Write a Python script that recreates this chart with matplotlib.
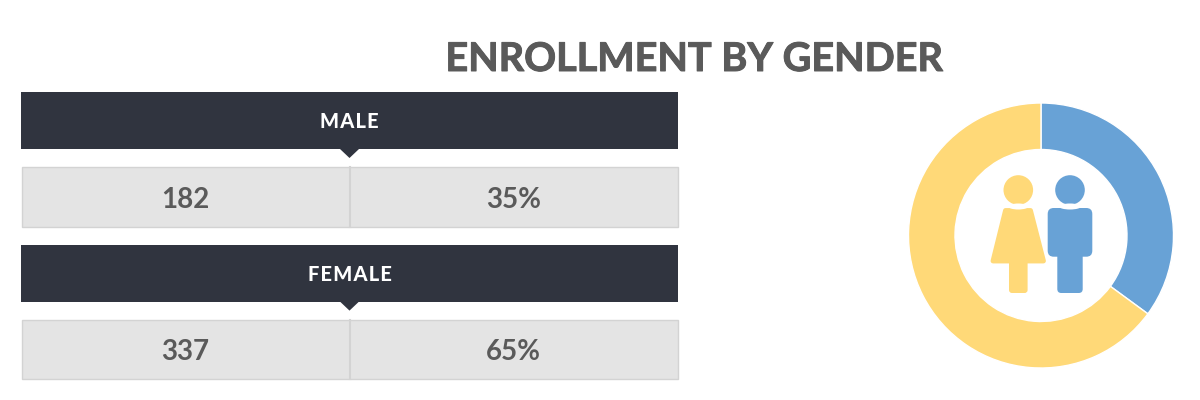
import matplotlib
matplotlib.use("Agg")
import matplotlib.pyplot as plt
import matplotlib.patheffects as pe
from matplotlib.patches import Rectangle, Polygon, Circle, FancyBboxPatch, Ellipse

plt.rcParams['font.family'] = ['Lato', 'DejaVu Sans']

title = "ENROLLMENT BY GENDER"
categories = ["MALE", "FEMALE"]
counts = [182, 337]
shares = ["35%", "65%"]
colors = ["#68A2D6", "#FFD978"]
DARK = "#30343F"; CELL = "#E4E4E4"; EDGE = "#D3D3D3"; TEXT = "#5A5A5A"

fig = plt.figure(figsize=(12, 4), dpi=100, facecolor="white")
ax = fig.add_axes([0, 0, 1, 1])
ax.set_xlim(0, 1200); ax.set_ylim(400, 0); ax.axis("off")

ax.text(695, 59.5, title, ha="center", va="center", fontsize=28.5, fontweight="bold", color=TEXT,
        path_effects=[pe.withStroke(linewidth=0.7, foreground=TEXT)])

tops = [92, 244.6]
value_y = [199.5, 352.5]
for top, vy, cat, n, s in zip(tops, value_y, categories, counts, shares):
    ax.add_patch(Rectangle((21, top), 657, 57, fc=DARK, ec="none"))
    ax.add_patch(Polygon([(340, top + 57), (359, top + 57), (349.5, top + 66)], fc=DARK, ec="none"))
    ax.text(349.5, top + 29.5, "\u200a".join(cat), ha="center", va="center", fontsize=14.4, fontweight=900,
            color="white")
    ax.add_patch(Rectangle((21.5, top + 75), 656, 59.5, fc=CELL, ec=EDGE, lw=1))
    ax.plot([349.5, 349.5], [top + 75, top + 134.5], color=EDGE, lw=1.5)
    ax.text(185.5, vy, str(n), ha="center", va="center", fontsize=20, fontweight="bold", color=TEXT)
    ax.text(513.5, vy, s, ha="center", va="center", fontsize=20, fontweight="bold", color=TEXT)

# donut
cx, cy, R = 1041, 235.5, 132.5
dax = fig.add_axes([(cx - R) / 1200, 1 - (cy + R) / 400, 2 * R / 1200, 2 * R / 400])
dax.pie(counts, colors=colors, startangle=90, counterclock=False, radius=1,
        wedgeprops=dict(width=1 - 86 / 132.5, edgecolor="white", linewidth=1.0))
dax.set_xlim(-1, 1); dax.set_ylim(-1, 1); dax.set_aspect("auto")

# icons
y_c, b = colors[1], colors[0]
ax2 = fig.add_axes([0, 0, 1, 1]); ax2.set_xlim(0, 1200); ax2.set_ylim(400, 0); ax2.axis("off")
ax2.patch.set_alpha(0)
ax2.add_patch(Circle((1018.3, 190), 14.8, fc=y_c, ec="none"))
ax2.add_patch(Polygon([(1005.5, 210.5), (1030.5, 210.5), (1043.5, 261), (993, 261)], fc=y_c, ec=y_c, lw=3.5, joinstyle="round"))
ax2.add_patch(FancyBboxPatch((1009, 255), 18.6, 38, boxstyle="round,pad=0,rounding_size=3", fc=y_c, ec="none"))
ax2.add_patch(Ellipse((1018.3, 206.5), 20, 6, fc="white", ec="none"))

ax2.add_patch(Circle((1070, 190), 14.8, fc=b, ec="none"))
ax2.add_patch(FancyBboxPatch((1047.7, 208), 44.6, 48.7, boxstyle="round,pad=0,rounding_size=6", fc=b, ec="none"))
ax2.add_patch(FancyBboxPatch((1057.3, 245), 25.4, 48, boxstyle="round,pad=0,rounding_size=4", fc=b, ec="none"))
ax2.add_patch(Ellipse((1070, 206.5), 22, 6, fc="white", ec="none"))

fig.savefig("out.png", dpi=100, facecolor="white")
